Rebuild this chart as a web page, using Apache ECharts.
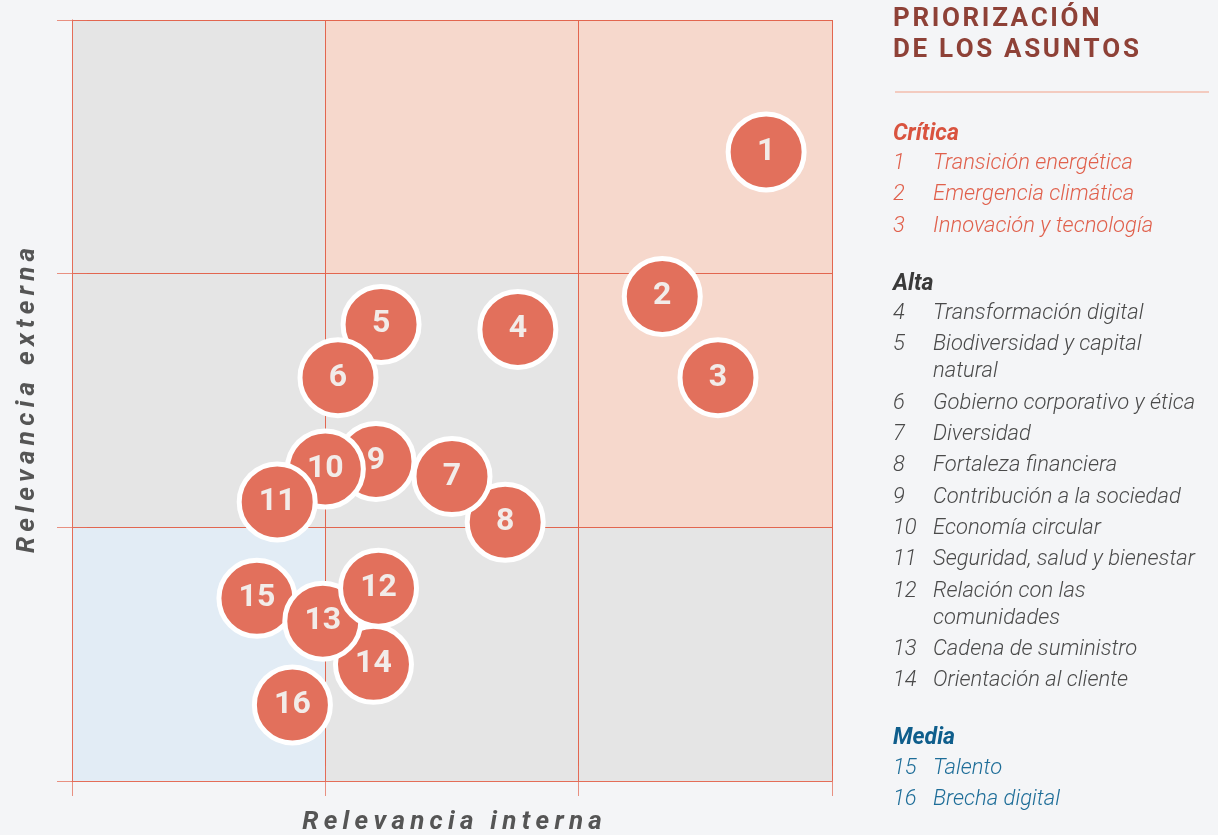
<!DOCTYPE html>
<html>
<head>
<meta charset="utf-8">
<style>
  html, body { margin: 0; padding: 0; background: #f4f5f7; }
  #main { width: 1218px; height: 835px; }
</style>
<script src="https://cdn.jsdelivr.net/npm/echarts@6/dist/echarts.min.js"></script>
</head>
<body>
<div id="main"></div>
<script>
// materiality matrix: internal (x) vs external (y) relevance, 0..3 scale
var ids = [1, 2, 3, 4, 5, 6, 7, 8, 9, 10, 11, 12, 13, 14, 15, 16];
var internal = [2.74, 2.33, 2.55, 1.76, 1.22, 1.05, 1.50, 1.71, 1.20, 1.00, 0.81, 1.21, 0.99, 1.19, 0.73, 0.87];
var external = [2.48, 1.91, 1.59, 1.78, 1.80, 1.59, 1.20, 1.02, 1.26, 1.23, 1.10, 0.76, 0.63, 0.46, 0.72, 0.30];
var names = [
  'Transición energética', 'Emergencia climática', 'Innovación y tecnología',
  'Transformación digital', 'Biodiversidad y capital\nnatural', 'Gobierno corporativo y ética',
  'Diversidad', 'Fortaleza financiera', 'Contribución a la sociedad', 'Economía circular',
  'Seguridad, salud y bienestar', 'Relación con las\ncomunidades', 'Cadena de suministro',
  'Orientación al cliente', 'Talento', 'Brecha digital'
];
var levels = ['Crítica', 'Alta', 'Media'];
var levelOf = [0, 0, 0, 1, 1, 1, 1, 1, 1, 1, 1, 1, 1, 1, 2, 2];
// order the bubbles are painted in (later ones sit on top)
var drawOrder = [1, 2, 3, 4, 5, 6, 8, 7, 9, 10, 11, 15, 14, 13, 12, 16];
var ticks = [0, 1, 2, 3];

// cell fills: [column, row, kind] kind 0 grey, 1 peach, 2 blue
var cells = [
  [0, 0, 2], [1, 0, 0], [2, 0, 0],
  [0, 1, 0], [1, 1, 0], [2, 1, 1],
  [0, 2, 0], [1, 2, 1], [2, 2, 1]
];
var cellColors = ['#e5e5e5', '#f6d8cc', '#e2ecf5'];

var lineColor = '#e2664f';
var headColors = ['#d9533f', '#3a3a3a', '#0f5e8c'];
var itemColors = ['#e0604c', '#4a4a4a', '#1d6d98'];
var thin = '\u2009';
var hair = '\u200a';

function spaced(s, sp) { return s.split('').join(sp); }

function axisBase(pos) {
  return {
    type: 'value', min: ticks[0], max: ticks[ticks.length - 1], interval: 1,
    position: pos, z: 3,
    axisLine: { show: true, lineStyle: { color: 'rgba(228,110,90,0.6)', width: 1 } },
    axisTick: { show: true, length: 15, lineStyle: { color: 'rgba(228,110,90,0.75)' } },
    axisLabel: { show: false },
    splitLine: { show: true, lineStyle: { color: lineColor, width: 1 } }
  };
}

var nameStyle = { fontFamily: 'Roboto', fontWeight: 'bold', fontStyle: 'italic', fontSize: 26, color: '#555555' };
var xBottom = axisBase('bottom');
xBottom.name = spaced('Relevancia interna', thin);
xBottom.nameLocation = 'middle';
xBottom.nameGap = 28;
xBottom.nameTextStyle = nameStyle;
var xTop = axisBase('top');
var yLeft = axisBase('left');
yLeft.name = spaced('Relevancia externa', thin);
yLeft.nameLocation = 'middle';
yLeft.nameGap = 32;
yLeft.nameRotate = 90;
yLeft.nameTextStyle = nameStyle;
var yRight = axisBase('right');

var bubbles = drawOrder.map(function (id) {
  var i = ids.indexOf(id);
  return { value: [internal[i], external[i]], id: id };
});

// legend text on the right
var graphics = [];
var gx = 893, tx = 933;
var titleFont = 'bold 26px Roboto';
graphics.push({ type: 'text', x: gx, y: 19, style: { text: spaced('PRIORIZACIÓN', hair), font: titleFont, fill: '#8e4137', verticalAlign: 'middle' } });
graphics.push({ type: 'text', x: gx, y: 50, style: { text: spaced('DE LOS ASUNTOS', hair), font: titleFont, fill: '#8e4137', verticalAlign: 'middle' } });
graphics.push({ type: 'line', shape: { x1: 895, y1: 92, x2: 1209, y2: 92 }, style: { stroke: '#f3cbc0', lineWidth: 2 } });

var y = 134;
levels.forEach(function (lv, li) {
  graphics.push({ type: 'text', x: gx, y: y, style: { text: lv, font: 'italic bold 23px Roboto', fill: headColors[li], verticalAlign: 'middle' } });
  y += 29.5;
  ids.forEach(function (id, i) {
    if (levelOf[i] !== li) return;
    graphics.push({ type: 'text', x: gx, y: y, style: { text: String(id), font: 'italic 300 22px Roboto', fill: itemColors[li], verticalAlign: 'middle' } });
    names[i].split('\n').forEach(function (ln, k) {
      graphics.push({ type: 'text', x: tx, y: y + k * 27, style: { text: ln, font: 'italic 300 22px Roboto', fill: itemColors[li], verticalAlign: 'middle' } });
      if (k > 0) y += 27;
    });
    y += 31.3;
  });
  y += 58 - 31.3;
});

var option = {
  backgroundColor: '#f4f5f7',
  animation: false,
  grid: { left: 72, top: 20, width: 760, height: 761, outerBoundsMode: 'none', containLabel: false },
  xAxis: [xBottom, xTop],
  yAxis: [yLeft, yRight],
  series: [
    {
      type: 'custom',
      z: 1,
      silent: true,
      data: cells,
      encode: { x: 0, y: 1 },
      renderItem: function (params, api) {
        var p0 = api.coord([api.value(0), api.value(1) + 1]);
        var p1 = api.coord([api.value(0) + 1, api.value(1)]);
        return {
          type: 'rect',
          shape: { x: p0[0], y: p0[1], width: p1[0] - p0[0], height: p1[1] - p0[1] },
          style: { fill: cellColors[api.value(2)] }
        };
      }
    },
    {
      type: 'scatter',
      z: 10,
      data: bubbles,
      symbol: 'circle',
      symbolSize: 76,
      itemStyle: { color: '#e2705c', borderColor: '#ffffff', borderWidth: 5, opacity: 1 },
      label: {
        show: true,
        position: 'inside',
        formatter: function (p) { return String(p.data.id); },
        fontFamily: 'Roboto',
        fontWeight: 'bold',
        fontSize: 32,
        color: '#f2ece9'
      },
      emphasis: { disabled: true }
    }
  ],
  graphic: graphics
};

var myChart = echarts.init(document.getElementById('main'));
myChart.setOption(option);
</script>
</body>
</html>
